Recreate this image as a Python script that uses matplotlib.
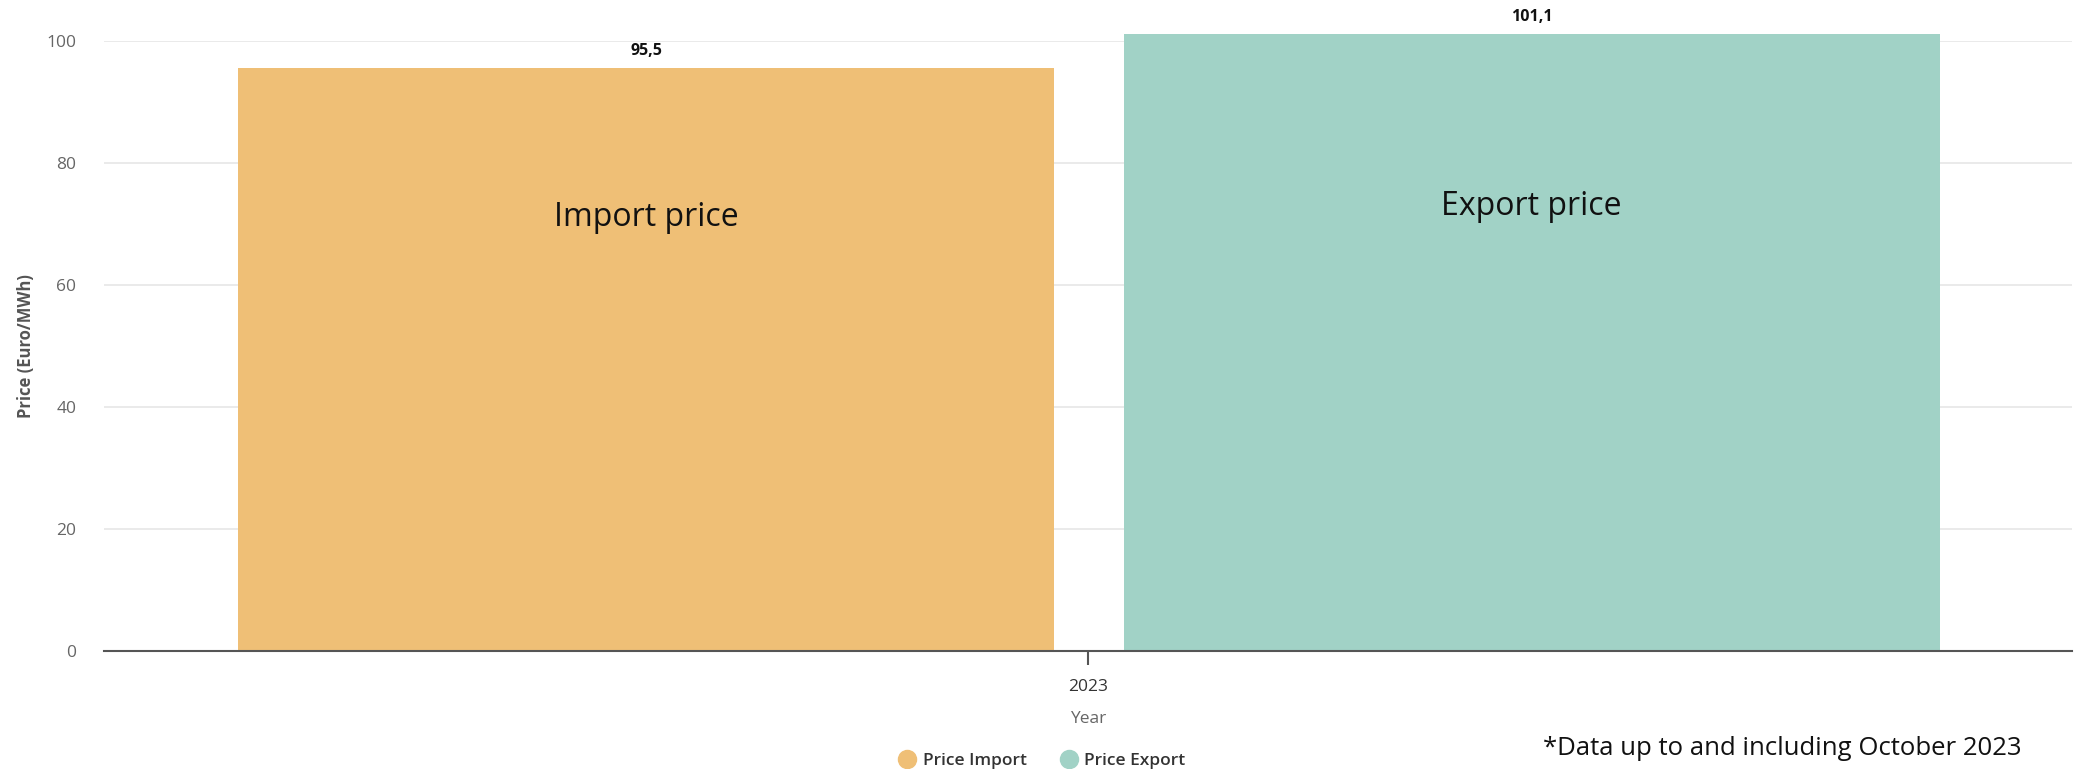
import matplotlib.pyplot as plt
from matplotlib.lines import Line2D

plt.rcParams['font.family'] = ['Open Sans', 'DejaVu Sans']

# data
year = '2023'
series = ['Price Import', 'Price Export']
values = [95.5, 101.1]
value_labels = ['95,5', '101,1']
bar_names = ['Import price', 'Export price']
colors = ['#EFBF76', '#A1D2C6']
yticks = [0, 20, 40, 60, 80, 100]

fig = plt.figure(figsize=(20.8, 7.69), dpi=100)
ax = fig.add_axes([0.05, 0.1534, 0.946, 0.7933])

offsets = [-0.2245, 0.2256]
width = 0.4145
for off, v, lab, c, s in zip(offsets, values, value_labels, colors, series):
    ax.bar(off, v, width=width, color=c, label=s, clip_on=False, zorder=2)
    ax.text(off, v + 1.5, lab, ha='center', va='bottom', fontsize=11.5,
            fontweight='bold', color='#111111', clip_on=False)

# names inside the bars
ax.text(offsets[0], 71, bar_names[0], ha='center', va='center', fontsize=23, color='#111111')
ax.text(offsets[1], 72.8, bar_names[1], ha='center', va='center', fontsize=23, color='#111111')

ax.set_xlim(-0.5, 0.5)
ax.set_ylim(0, 100)
ax.set_yticks(yticks)
ax.set_yticklabels([str(t) for t in yticks])
ax.set_xticks([0])
ax.set_xticklabels([year])
ax.grid(axis='y', color='#e6e6e6', linewidth=1.2, zorder=0)
ax.set_axisbelow(True)

for sp in ['top', 'right', 'left']:
    ax.spines[sp].set_visible(False)
ax.spines['bottom'].set_color('#555555')
ax.spines['bottom'].set_linewidth(1.5)
ax.spines['bottom'].set_zorder(3)

ax.tick_params(axis='y', length=0, pad=20, labelsize=12.5, labelcolor='#666666')
ax.tick_params(axis='x', length=10, width=1.5, color='#555555', pad=10,
               labelsize=12.5, labelcolor='#333333')

ax.set_ylabel('Price (Euro/MWh)', fontsize=12, fontweight='bold', color='#555555', labelpad=8)
ax.set_xlabel('Year', fontsize=12.5, color='#666666', labelpad=12)

handles = [Line2D([], [], marker='o', linestyle='none', markersize=13,
                  markerfacecolor=c, markeredgecolor=c) for c in colors]
leg = fig.legend(handles, series, loc='center', bbox_to_anchor=(0.5014, 0.011), ncol=2,
                 frameon=False, handlelength=0.8, handletextpad=0.5, columnspacing=2.0,
                 borderpad=0, prop={'size': 12.5, 'weight': 'semibold'})
for t in leg.get_texts():
    t.set_color('#333333')

fig.text(0.7418, 0.027, '*Data up to and including October 2023', fontsize=18.5,
         color='#111111', ha='left', va='center')

fig.savefig('out.png', dpi=100)
